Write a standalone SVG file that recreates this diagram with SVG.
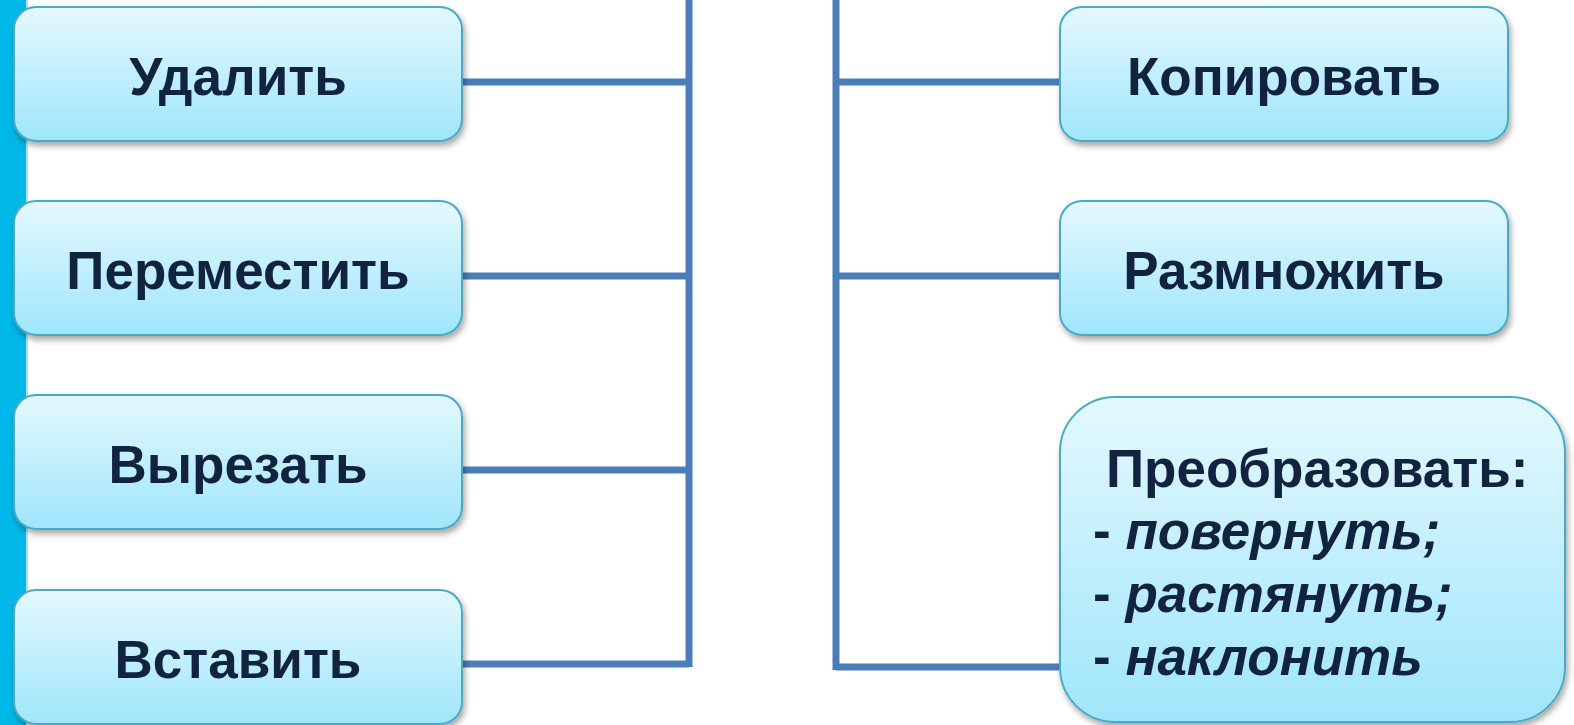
<svg xmlns="http://www.w3.org/2000/svg" width="1574" height="725" viewBox="0 0 1574 725">
<defs>
<linearGradient id="g" x1="0" y1="0" x2="0" y2="1">
<stop offset="0" stop-color="#e4f8fe"/>
<stop offset="1" stop-color="#9fe6fb"/>
</linearGradient>
<filter id="sh" x="-10%" y="-10%" width="120%" height="130%">
<feGaussianBlur in="SourceAlpha" stdDeviation="3"/>
<feOffset dx="2" dy="4" result="b"/>
<feComponentTransfer><feFuncA type="linear" slope="0.35"/></feComponentTransfer>
<feMerge><feMergeNode/><feMergeNode in="SourceGraphic"/></feMerge>
</filter>
</defs>
<style>
.box{fill:url(#g);stroke:#4aaac6;stroke-width:2;filter:url(#sh)}
.t{font-family:"Liberation Sans",Arial,sans-serif;font-weight:bold;font-size:53px;fill:#12233f;text-anchor:middle}
.tl{font-family:"Liberation Sans",Arial,sans-serif;font-weight:bold;font-size:53px;fill:#12233f}
.it{font-style:italic}
.c{stroke:#4a7ebb;stroke-width:7;fill:none}
</style>
<rect width="1574" height="725" fill="#ffffff"/>
<rect x="0" y="0" width="26" height="725" fill="#00b8e8"/>
<rect x="26" y="0" width="2" height="725" fill="#a8e6f8"/>
<g id="connectors">
<polyline class="c" points="463,82 689,82"/>
<polyline class="c" points="463,276 689,276"/>
<polyline class="c" points="463,470 689,470"/>
<polyline class="c" points="463,664 689,664"/>
<polyline class="c" points="689,0 689,667"/>
<polyline class="c" points="836,0 836,670"/>
<polyline class="c" points="836,82 1060,82"/>
<polyline class="c" points="836,276 1060,276"/>
<polyline class="c" points="836,667 1060,667"/>
</g>
<g id="n-udalit">
<rect class="box" x="14" y="7" width="448" height="134" rx="22"/>
<text class="t" x="238" y="95">Удалить</text>
</g>
<g id="n-peremestit">
<rect class="box" x="14" y="201" width="448" height="134" rx="22"/>
<text class="t" x="238" y="289">Переместить</text>
</g>
<g id="n-vyrezat">
<rect class="box" x="14" y="395" width="448" height="134" rx="22"/>
<text class="t" x="238" y="483">Вырезать</text>
</g>
<g id="n-vstavit">
<rect class="box" x="14" y="590" width="448" height="134" rx="22"/>
<text class="t" x="238" y="678">Вставить</text>
</g>
<g id="n-kopirovat">
<rect class="box" x="1060" y="7" width="448" height="134" rx="22"/>
<text class="t" x="1284" y="95">Копировать</text>
</g>
<g id="n-razmnozhit">
<rect class="box" x="1060" y="201" width="448" height="134" rx="22"/>
<text class="t" x="1284" y="289">Размножить</text>
</g>
<g id="n-preobrazovat">
<rect class="box" x="1060" y="397" width="505" height="325" rx="55"/>
<text class="tl" x="1106" y="487">Преобразовать:</text>
<text class="tl" x="1093" y="549">- <tspan class="it">повернуть;</tspan></text>
<text class="tl" x="1093" y="612">- <tspan class="it">растянуть;</tspan></text>
<text class="tl" x="1093" y="675">- <tspan class="it">наклонить</tspan></text>
</g>
</svg>
